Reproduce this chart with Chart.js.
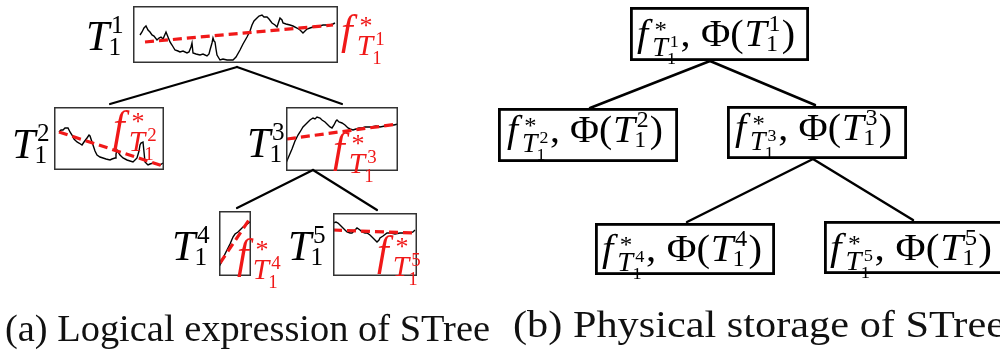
<!DOCTYPE html>
<html>
<head>
<meta charset="utf-8">
<script src="https://cdn.jsdelivr.net/npm/chart.js@4"></script>
<style>
  body { margin: 0; background: #fff; }
  #wrap { position: relative; width: 1000px; height: 353px; overflow: hidden; }
  #wrap canvas { position: absolute; }
</style>
</head>
<body>
<div id="wrap"></div>
<script>
// segment series, [time, value] per node
const seriesT1 = [[7,28],[9,31],[11,35],[13,37],[15,33],[17,31],[19,28],[21,27],[24,23],[26,25],[28,26],[30,24],[33,31],[35,26],[37,21],[39,18],[42,13],[45,12],[47,11],[50,12],[54,10],[56,11],[58,16],[59,20],[60,10],[63,9],[67,8],[70,9],[74,7],[76,9],[77,13],[79,20],[80,25],[81,22],[82,21],[83,14],[84,8],[87,3],[90,4],[94,3],[97,3],[100,3],[103,6],[107,13],[110,19],[114,26],[117,32],[119,38],[121,42],[124,45],[126,47],[129,48],[131,46],[134,46],[136,44],[139,40],[142,38],[144,36],[146,42],[147,45],[149,43],[150,40],[153,39],[157,38],[160,37],[164,35],[167,33],[169,31],[170,30],[172,32],[174,34],[177,35],[180,36],[184,37],[187,37],[190,38],[194,38],[197,38],[200,39],[202,40]];
const seriesT2 = [[5,38],[7,40],[9,40],[11,42],[14,42],[16,38],[18,35],[20,31],[23,28],[25,27],[28,25],[30,28],[33,32],[35,35],[36,34],[38,28],[39,25],[41,19],[43,15],[46,13],[49,12],[52,11],[56,10],[58,11],[61,12],[62,16],[63,20],[64,18],[66,15],[69,12],[73,10],[76,9],[79,8],[81,10],[83,12],[85,19],[86,25],[87,27],[89,28],[90,18],[91,8],[93,6],[94,5],[96,6],[99,7],[102,6],[106,5],[109,7]];
const seriesT3 = [[0,8],[3,15],[6,22],[9,30],[12,36],[14,39],[17,44],[19,46],[21,48],[24,51],[27,53],[29,52],[31,54],[34,53],[36,51],[39,49],[42,46],[44,44],[46,43],[48,46],[50,50],[51,51],[53,49],[56,48],[59,46],[62,43],[64,42],[67,41],[70,42],[73,43],[76,43],[79,44],[81,44],[85,44],[90,45],[94,44],[99,45],[104,46],[108,46],[112,47]];
const seriesT4 = [[0,9],[3,15],[6,22],[8,26],[11,32],[14,39],[16,42],[19,44],[21,46],[24,49],[27,51],[31,54]];
const seriesT5 = [[0,53],[3,54],[5,53],[7,51],[9,49],[12,46],[14,44],[17,43],[19,43],[22,46],[24,48],[27,46],[29,44],[32,43],[34,43],[37,41],[39,39],[41,37],[44,34],[46,36],[47,38],[50,40],[54,43],[58,43],[62,42],[67,43],[72,43],[77,43],[80,44],[82,46]];

// linear fits f* (start and end point)
const fitT1 = [[12,21],[200,38]];
const fitT2 = [[5,38],[109,4]];
const fitT3 = [[1,32],[112,47]];
const fitT4 = [[1,13],[30,56]];
const fitT5 = [[0,46],[80,43]];

const nodeIds = ["1", "2", "3", "4", "5"];
const captions = ["(a) Logical expression of STree", "(b) Physical storage of STree"];

// ---- layout (pixels) ----
const boxesA = [
  { x: 133, y: 6, w: 205, h: 57, series: seriesT1, fit: fitT1 },
  { x: 54, y: 107, w: 110, h: 63, series: seriesT2, fit: fitT2 },
  { x: 286, y: 107, w: 112, h: 64, series: seriesT3, fit: fitT3 },
  { x: 219, y: 211, w: 32, h: 65, series: seriesT4, fit: fitT4 },
  { x: 333, y: 213, w: 84, h: 63, series: seriesT5, fit: fitT5 },
];
const edgesA = [[237,67,110,104],[237,67,342,104],[313,170,237,208],[313,170,377,210]];
const edgesB = [[710,61,590,108],[710,61,815,105],[813,159,687,222],[813,159,913,220]];
const tLabels = [[86,50],[12,158],[247,157],[172,260],[288,260]];
const fLabels = [[341,44],[113,140],[333,162],[237,268],[377,265]];
const boxesB = [
  { x: 630, y: 7, w: 179, h: 54, tx: 637, ty: 46, tw: 158 },
  { x: 498, y: 108, w: 180, h: 54, tx: 507, ty: 142, tw: 156 },
  { x: 727, y: 106, w: 180, h: 53, tx: 735, ty: 140, tw: 157 },
  { x: 595, y: 223, w: 180, h: 52, tx: 602, ty: 261, tw: 160 },
  { x: 824, y: 221, w: 190, h: 53, tx: 830, ty: 260, tw: 162 },
];

const RED = "rgb(240,24,24)";
const SERIF = '"Liberation Serif", "DejaVu Serif", serif';
const font = (st, s) => `${st} ${s}px ${SERIF}`;

const wrap = document.getElementById("wrap");

// small framed chart per segment
const frame = {
  id: "frame",
  afterDraw(chart) {
    const c = chart.ctx, a = chart.chartArea;
    c.save();
    c.strokeStyle = "#333";
    c.lineWidth = 1.5;
    c.strokeRect(a.left + 0.75, a.top + 0.75, a.right - a.left - 1.5, a.bottom - a.top - 1.5);
    c.restore();
  }
};

boxesA.forEach(function (b) {
  const cv = document.createElement("canvas");
  cv.width = b.w; cv.height = b.h;
  cv.style.left = b.x + "px"; cv.style.top = b.y + "px";
  wrap.appendChild(cv);
  new Chart(cv, {
    type: "line",
    data: {
      datasets: [
        {
          data: b.fit.map((p) => ({ x: p[0], y: p[1] })),
          borderColor: RED, borderWidth: 3.2, borderDash: [9, 5],
          pointRadius: 0, order: 0,
        },
        {
          data: b.series.map((p) => ({ x: p[0], y: p[1] })),
          borderColor: "#000", borderWidth: 1.4, pointRadius: 0, order: 1,
        },
      ],
    },
    options: {
      responsive: false, animation: false, events: [],
      layout: { padding: 0 },
      plugins: { legend: { display: false }, tooltip: { enabled: false } },
      scales: {
        x: { type: "linear", min: 0, max: b.w, display: false },
        y: { type: "linear", min: 0, max: b.h, display: false },
      },
    },
    plugins: [frame],
  });
});

// math pieces
function piecesT(ctx, S, k, x0) {
  ctx.font = font("italic", S);
  const w = ctx.measureText("T").width;
  const s2 = 0.6 * S;
  ctx.font = font("", s2);
  const wd = ctx.measureText(k).width;
  return {
    p: [
      { t: "T", f: font("italic", S), x: x0, y: 0 },
      { t: k, f: font("", s2), x: x0 + w + 0.04 * S, y: -0.4 * S },
      { t: "1", f: font("", s2), x: x0 + w - 0.02 * S, y: 0.13 * S },
    ],
    end: x0 + w + 0.04 * S + wd,
  };
}

function piecesF(ctx, S, k, x0, ty) {
  ctx.font = font("italic", S);
  const wf = ctx.measureText("f").width;
  const a = 0.7 * S, b = 0.45 * S, st = 0.62 * S;
  ctx.font = font("italic", a);
  const wT = ctx.measureText("T").width;
  ctx.font = font("", b);
  const wd = ctx.measureText(k).width;
  const tx = x0 + wf + 0.1 * S;
  ty = ty * S;
  return {
    p: [
      { t: "f", f: font("italic", S), x: x0, y: 0 },
      { t: "*", f: font("", st), x: x0 + wf + 0.16 * S, y: -0.24 * S },
      { t: "T", f: font("italic", a), x: tx, y: ty },
      { t: k, f: font("", b), x: tx + wT + 0.05 * S, y: ty - 0.22 * S },
      { t: "1", f: font("", b), x: tx + wT - 0.02 * S, y: ty + 0.22 * S },
    ],
    end: tx + wT + 0.05 * S + wd,
  };
}

function piecesNode(ctx, S, k) {
  const r = piecesF(ctx, S, k, 0, 0.25);
  const p = r.p;
  let x = r.end;
  ctx.font = font("", S);
  p.push({ t: ",", f: font("", S), x: x + 0.04 * S, y: 0 });
  x += ctx.measureText(",").width + 0.3 * S;
  p.push({ t: "\u03A6(", f: font("", S), x: x, y: 0 });
  x += ctx.measureText("\u03A6(").width + 0.02 * S;
  const r2 = piecesT(ctx, S, k, x);
  p.push(...r2.p);
  x = r2.end + 0.03 * S;
  ctx.font = font("", S);
  p.push({ t: ")", f: font("", S), x: x, y: 0 });
  x += ctx.measureText(")").width;
  return { p, width: x };
}

function drawPieces(ctx, p, x, y, sx, color) {
  ctx.save();
  ctx.translate(x, y);
  ctx.scale(sx, 1);
  ctx.fillStyle = color;
  ctx.textBaseline = "alphabetic";
  p.forEach(function (q) {
    ctx.font = q.f;
    ctx.fillText(q.t, q.x, q.y);
  });
  ctx.restore();
}

const diagram = {
  id: "diagram",
  afterDraw(chart) {
    const ctx = chart.ctx;
    ctx.save();
    ctx.lineCap = "round";
    ctx.strokeStyle = "#000";
    ctx.lineWidth = 2.2;
    edgesA.forEach(function (e) {
      ctx.beginPath(); ctx.moveTo(e[0], e[1]); ctx.lineTo(e[2], e[3]); ctx.stroke();
    });
    ctx.lineWidth = 2.5;
    edgesB.forEach(function (e) {
      ctx.beginPath(); ctx.moveTo(e[0], e[1]); ctx.lineTo(e[2], e[3]); ctx.stroke();
    });
    // boxes of panel (b)
    ctx.lineWidth = 2.8;
    ctx.lineCap = "butt";
    boxesB.forEach(function (b, i) {
      ctx.strokeRect(b.x + 1.4, b.y + 1.4, b.w - 2.8, b.h - 2.8);
      const r = piecesNode(ctx, 38, nodeIds[i]);
      drawPieces(ctx, r.p, b.tx, b.ty, b.tw / r.width, "#000");
    });
    // labels of panel (a)
    nodeIds.forEach(function (k, i) {
      const t = piecesT(ctx, 42, k, 0);
      drawPieces(ctx, t.p, tLabels[i][0], tLabels[i][1], 1, "#000");
      const f = piecesF(ctx, 42, k, 0, 0.25);
      drawPieces(ctx, f.p, fLabels[i][0], fLabels[i][1], 1, RED);
    });
    // captions
    ctx.fillStyle = "#111";
    ctx.font = font("", 38);
    const cap = [[5, 341, 485], [513, 337, 492]];
    captions.forEach(function (s, i) {
      const w = ctx.measureText(s).width;
      ctx.save();
      ctx.translate(cap[i][0], cap[i][1]);
      ctx.scale(cap[i][2] / w, 1);
      ctx.fillText(s, 0, 0);
      ctx.restore();
    });
    ctx.restore();
  }
};

const main = document.createElement("canvas");
main.width = 1000; main.height = 353;
main.style.left = "0px"; main.style.top = "0px"; main.style.zIndex = 2;
main.style.pointerEvents = "none";
wrap.appendChild(main);
new Chart(main, {
  type: "scatter",
  data: { datasets: [{ data: [] }] },
  options: {
    responsive: false, animation: false, events: [],
    layout: { padding: 0 },
    plugins: { legend: { display: false }, tooltip: { enabled: false } },
    scales: {
      x: { type: "linear", min: 0, max: 1000, display: false },
      y: { type: "linear", min: 0, max: 353, display: false },
    },
  },
  plugins: [diagram],
});
</script>
</body>
</html>
